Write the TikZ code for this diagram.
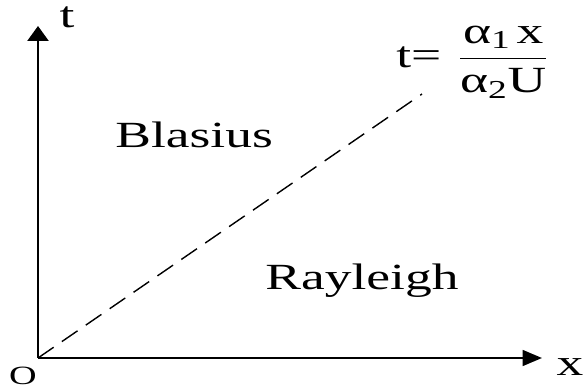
\documentclass[tikz,border=0pt]{standalone}
\usepackage{amsmath}
\usepackage{fontspec}
\setmainfont{Liberation Serif}[FakeStretch=1.45]
\usetikzlibrary{positioning,arrows.meta}

\begin{document}
\begin{tikzpicture}[x=0.02cm, y=-0.02cm]
    \useasboundingbox (0,0) rectangle (583,392);
    \tikzset{lbl/.style={font=\fontsize{21}{25}\selectfont, inner sep=0pt}}
    \coordinate (o) at (38,358);
    \coordinate (tend) at (38,26);
    \coordinate (xend) at (542,358);
    \coordinate (cut) at (422,94);
    \draw[line width=1.1pt, -{Triangle[length=8.5pt,width=12pt]}] (o) -- (tend);
    \draw[line width=1.1pt, -{Triangle[length=11pt,width=9pt]}] (o) -- (xend);
    \draw[line width=0.8pt, dash pattern=on 10.8pt off 5.7pt] (o) -- (cut);
    \node[lbl] (tlab) at (67,17) {t};
    \node[lbl] (xlab) at (570,367) {x};
    \node[lbl, font=\fontsize{15}{18}\selectfont] (olab) at (23,376) {O};
    \node[lbl, anchor=base west] (blasius) at (115,148) {Blasius};
    \node[lbl, anchor=base west] (rayleigh) at (265,290) {Rayleigh};
    \node[lbl, anchor=west] (bound) at (396,62)
        {t=\hspace{0.45em}$\dfrac{\text{α}_{\text{1}}\,\text{x}}{\text{α}_{\text{2}}\text{U}}$};
\end{tikzpicture}
\end{document}
